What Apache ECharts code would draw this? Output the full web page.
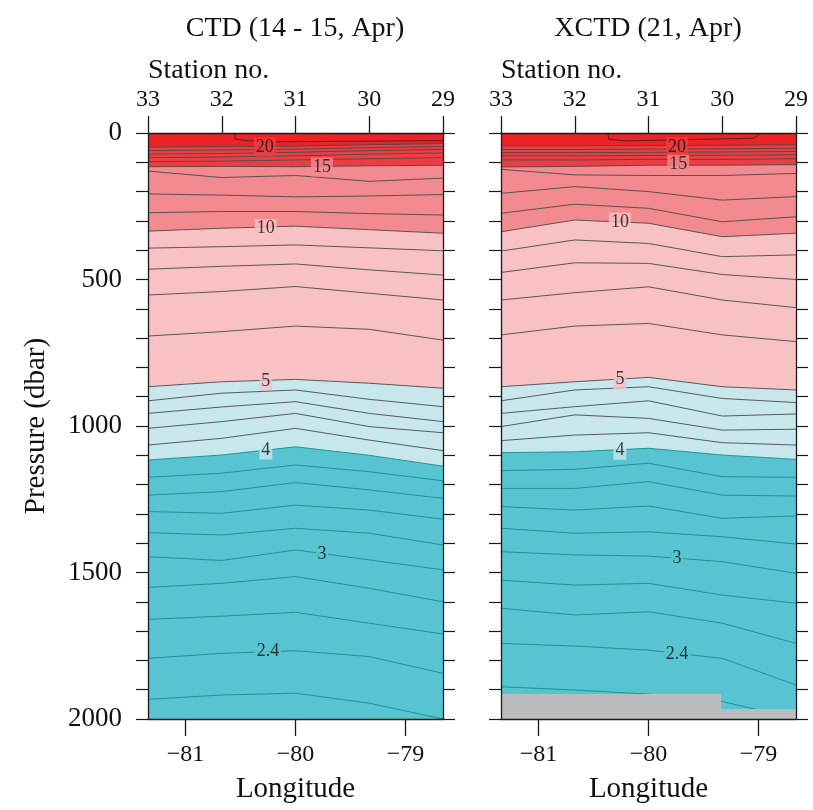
<!DOCTYPE html>
<html><head><meta charset="utf-8">
<script src="https://cdn.jsdelivr.net/npm/echarts@6/dist/echarts.min.js"></script>
<style>html,body{margin:0;padding:0;background:#fff}#c{width:813px;height:810px}</style>
</head><body><div id="c"></div>
<script>
const FONT = '"Liberation Serif", "Times New Roman", serif';

// ---- data ----
const panelTitles = ['CTD (14 - 15, Apr)', 'XCTD (21, Apr)'];
const stationNos = [33, 32, 31, 30, 29];
const stationLon = [-81.34, -80.67, -80.0, -79.33, -78.66];
const lonTicks = [-81, -80, -79];
const pressureTicks = [0, 500, 1000, 1500, 2000];

// isotherm levels (deg C)
const levels = [20, 19, 18, 17, 16, 15, 14, 13, 12, 10, 9, 8, 7, 6, 5, 4.8, 4.6, 4.4, 4.2, 4, 3.8, 3.6, 3.4, 3.2, 3, 2.8, 2.6, 2.4, 2.2];

// depth (dbar) of each isotherm at stations 33..29, CTD
const ctdDepth = [
  [48, 46, 45, 40, 36],
  [60, 58, 55, 50, 46],
  [72, 70, 66, 60, 56],
  [84, 82, 78, 72, 68],
  [98, 96, 92, 88, 84],
  [115, 114, 115, 112, 110],
  [130, 152, 145, 165, 154],
  [208, 212, 218, 215, 210],
  [272, 268, 268, 275, 280],
  [335, 325, 318, 330, 342],
  [393, 388, 382, 392, 402],
  [465, 455, 447, 467, 485],
  [553, 541, 524, 547, 570],
  [693, 678, 659, 670, 707],
  [866, 849, 841, 854, 871],
  [914, 888, 877, 909, 934],
  [957, 935, 917, 957, 985],
  [1008, 985, 957, 1002, 1023],
  [1065, 1042, 1008, 1048, 1084],
  [1116, 1099, 1071, 1100, 1137],
  [1175, 1161, 1133, 1156, 1187],
  [1236, 1224, 1193, 1218, 1247],
  [1292, 1298, 1270, 1287, 1318],
  [1364, 1372, 1349, 1366, 1406],
  [1446, 1459, 1423, 1457, 1491],
  [1551, 1537, 1514, 1554, 1600],
  [1660, 1649, 1636, 1673, 1710],
  [1793, 1776, 1767, 1787, 1844],
  [1933, 1918, 1912, 1946, 2000]
];

// depth (dbar) of each isotherm at stations 33..29, XCTD
const xctdDepth = [
  [44, 44, 43, 42, 40],
  [56, 56, 55, 54, 52],
  [67, 67, 66, 65, 63],
  [78, 78, 77, 76, 74],
  [92, 92, 90, 90, 88],
  [116, 114, 110, 110, 108],
  [124, 143, 145, 145, 138],
  [206, 183, 200, 229, 217],
  [274, 243, 257, 303, 286],
  [337, 297, 308, 354, 342],
  [403, 365, 377, 422, 416],
  [476, 443, 445, 483, 500],
  [570, 545, 525, 570, 596],
  [689, 659, 650, 689, 712],
  [866, 849, 834, 866, 877],
  [914, 877, 866, 906, 920],
  [957, 934, 914, 966, 959],
  [1002, 962, 974, 1014, 1011],
  [1050, 1031, 1023, 1057, 1065],
  [1091, 1088, 1076, 1099, 1114],
  [1152, 1148, 1127, 1173, 1175],
  [1213, 1213, 1190, 1236, 1239],
  [1275, 1287, 1273, 1315, 1307],
  [1349, 1366, 1361, 1378, 1403],
  [1429, 1440, 1444, 1463, 1503],
  [1526, 1543, 1537, 1577, 1605],
  [1622, 1645, 1634, 1673, 1742],
  [1742, 1751, 1765, 1793, 1884],
  [1890, 1901, 1915, 1940, 2000]
];

// small warm-water contour near the surface
const ctdBubbleLon = [-80.55, -80.55, -80.45, -80.2, -79.5, -78.66];
const ctdBubbleP = [0, 20, 26, 30, 28, 26];
const xctdBubbleLon = [-80.37, -80.36, -80.2, -79.6, -79.05, -78.97];
const xctdBubbleP = [0, 22, 27, 22, 18, 0];

// sea floor mask (XCTD)
const bottomLon = [-81.34, -79.34, -79.34, -78.66];
const bottomP = [1915, 1915, 1966, 1966];

// contour labels
const labelText = ['20', '15', '10', '5', '4', '3', '2.4'];
const labelBand = [1, 2, 3, 3, 4, 5, 5];
const ctdLabelLon = [-80.28, -79.76, -80.27, -80.27, -80.27, -79.76, -80.25];
const ctdLabelP = [48, 116, 326, 846, 1082, 1438, 1770];
const xctdLabelLon = [-79.74, -79.73, -80.26, -80.26, -80.26, -79.74, -79.74];
const xctdLabelP = [47, 107, 304, 842, 1083, 1452, 1778];

// colour classes
const bandBreaks = [20, 15, 10, 5, 4];
const bandColors = ['#ED2227', '#EE3D42', '#F28A8F', '#F8C1C4', '#C7E7ED', '#58C4D1']; // >20,15-20,10-15,5-10,4-5,<4

// ---- chart ----
function lineColor(L) { return L <= 4 ? '#13908F' : '#4a4a4a'; }

function panelSeries(p, depths, bLon, bP, labLon, labP) {
  const xi = p * 2, yi = p * 2;
  const s = [];
  bandBreaks.forEach((b, k) => {
    const li = levels.indexOf(b);
    s.push({
      type: 'line', xAxisIndex: xi, yAxisIndex: yi, z: 1, silent: true,
      symbol: 'none', showSymbol: false,
      data: stationLon.map((x, j) => [x, depths[li][j]]),
      lineStyle: { width: 0, opacity: 0 },
      areaStyle: { color: bandColors[k + 1], opacity: 1, origin: 'end' }
    });
  });
  levels.forEach((L, li) => {
    s.push({
      type: 'line', xAxisIndex: xi, yAxisIndex: yi, z: 2, silent: true,
      symbol: 'none', showSymbol: false,
      data: stationLon.map((x, j) => [x, depths[li][j]]),
      lineStyle: { color: lineColor(L), width: 0.9 }
    });
  });
  s.push({
    type: 'line', xAxisIndex: xi, yAxisIndex: yi, z: 2, silent: true,
    symbol: 'none', showSymbol: false,
    data: bLon.map((x, j) => [x, bP[j]]),
    lineStyle: { color: '#4a2020', width: 0.9 }
  });
  if (p === 1) {
    s.push({
      type: 'line', xAxisIndex: xi, yAxisIndex: yi, z: 3, silent: true,
      symbol: 'none', showSymbol: false,
      data: bottomLon.map((x, j) => [x, bottomP[j]]),
      lineStyle: { width: 0, opacity: 0 },
      areaStyle: { color: '#BBBCBF', opacity: 1, origin: 'end' }
    });
  }
  s.push({
    type: 'scatter', xAxisIndex: xi, yAxisIndex: yi, z: 4, silent: true,
    symbolSize: 1, itemStyle: { color: 'rgba(0,0,0,0)' },
    label: {
      show: true, position: 'inside',
      formatter: prm => labelText[prm.value[2]],
      fontSize: 18, fontFamily: FONT, color: '#111',
      padding: [1, 2, 0, 2]
    },
    data: labelText.map((t, i) => ({
      value: [labLon[i], labP[i], i],
      label: { backgroundColor: bandColors[labelBand[i]] }
    }))
  });
  return s;
}

const axisCol = '#1a1a1a';
function lonAxis(g) {
  return {
    gridIndex: g, type: 'value', min: -81.34, max: -78.66, position: 'bottom', z: 10,
    axisLine: { show: true, onZero: false, lineStyle: { color: axisCol, width: 1.3 } },
    axisTick: { show: true, customValues: lonTicks, length: 17, lineStyle: { color: axisCol, width: 1.3 } },
    axisLabel: { customValues: lonTicks, margin: 24, fontSize: 24, fontFamily: FONT, color: '#111',
      formatter: v => (v < 0 ? '\u2212' : '') + Math.abs(v) },
    splitLine: { show: false },
    name: 'Longitude', nameLocation: 'middle', nameGap: 56,
    nameTextStyle: { fontSize: 29, fontFamily: FONT, color: '#111' }
  };
}
function stationAxis(g) {
  return {
    gridIndex: g, type: 'value', min: 29, max: 33, interval: 1, inverse: true, position: 'top', z: 10,
    axisLine: { show: true, onZero: false, lineStyle: { color: axisCol, width: 1.3 } },
    axisTick: { show: true, length: 17, lineStyle: { color: axisCol, width: 1.3 } },
    axisLabel: { margin: 21, fontSize: 24, fontFamily: FONT, color: '#111', formatter: v => String(v) },
    splitLine: { show: false }
  };
}
function presAxis(g, pos, labels) {
  const a = {
    gridIndex: g, type: 'value', min: 0, max: 2000, interval: 500, inverse: true, position: pos, z: 10,
    axisLine: { show: true, onZero: false, lineStyle: { color: axisCol, width: 1.3 } },
    axisTick: { show: true, length: 12, lineStyle: { color: axisCol, width: 1.2 } },
    minorTick: { show: true, splitNumber: 5, length: 12, lineStyle: { color: axisCol, width: 1.2 } },
    axisLabel: { show: labels, margin: 26, fontSize: 27, fontFamily: FONT, color: '#111', formatter: v => String(v) },
    splitLine: { show: false }, minorSplitLine: { show: false }
  };
  if (labels) {
    a.name = 'Pressure (dbar)';
    a.nameLocation = 'middle';
    a.nameGap = 97;
    a.nameTextStyle = { fontSize: 29, fontFamily: FONT, color: '#111' };
  }
  return a;
}

const grids = [
  { left: 148, top: 133, width: 295, height: 586 },
  { left: 501, top: 133, width: 295, height: 586 }
];

const option = {
  animation: false,
  backgroundColor: '#fff',
  grid: grids.map(g => Object.assign({ show: true, backgroundColor: bandColors[0], borderWidth: 0 }, g)),
  xAxis: [lonAxis(0), stationAxis(0), lonAxis(1), stationAxis(1)],
  yAxis: [presAxis(0, 'left', true), presAxis(0, 'right', false), presAxis(1, 'left', false), presAxis(1, 'right', false)],
  graphic: [
    { type: 'text', x: 295, y: 29, style: { text: panelTitles[0], fontSize: 28, fontFamily: FONT, fill: '#111', textAlign: 'center', textVerticalAlign: 'middle' } },
    { type: 'text', x: 648, y: 29, style: { text: panelTitles[1], fontSize: 28, fontFamily: FONT, fill: '#111', textAlign: 'center', textVerticalAlign: 'middle' } },
    { type: 'text', x: 148, y: 71, style: { text: 'Station no.', fontSize: 28, fontFamily: FONT, fill: '#111', textAlign: 'left', textVerticalAlign: 'middle' } },
    { type: 'text', x: 501, y: 71, style: { text: 'Station no.', fontSize: 28, fontFamily: FONT, fill: '#111', textAlign: 'left', textVerticalAlign: 'middle' } }
  ],
  series: [].concat(
    panelSeries(0, ctdDepth, ctdBubbleLon, ctdBubbleP, ctdLabelLon, ctdLabelP),
    panelSeries(1, xctdDepth, xctdBubbleLon, xctdBubbleP, xctdLabelLon, xctdLabelP)
  )
};

const chart = echarts.init(document.getElementById('c'), null, { renderer: 'canvas' });
chart.setOption(option);
</script>
</body></html>
